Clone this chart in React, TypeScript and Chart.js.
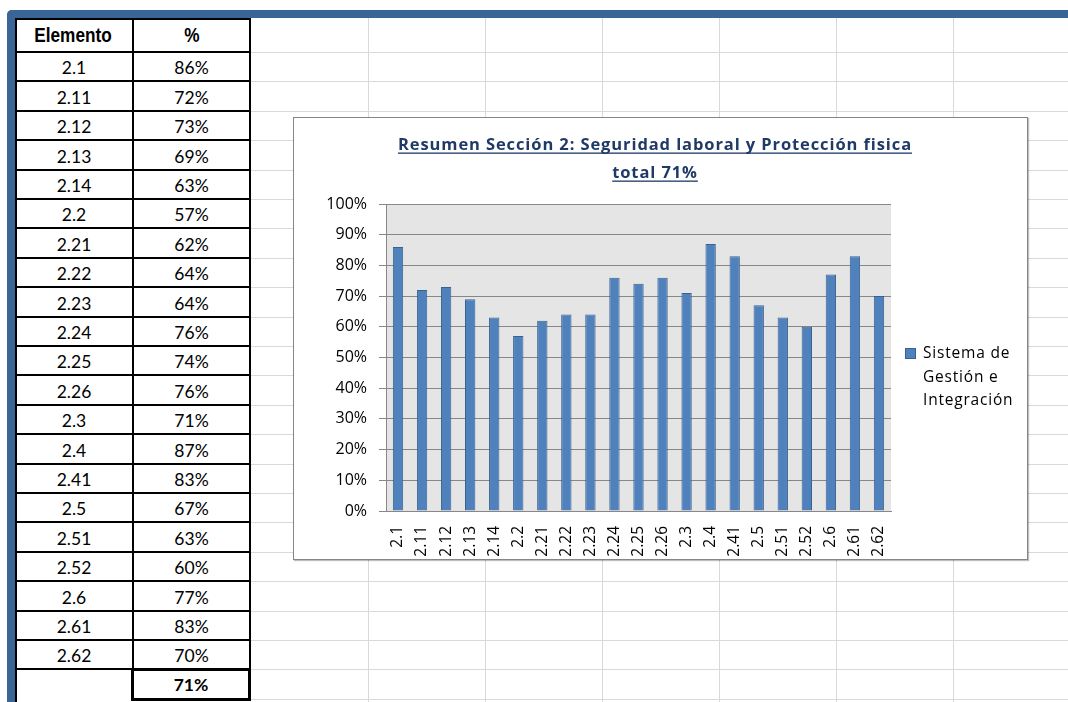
import React, { useEffect, useRef } from "react";
import { Chart, registerables } from "chart.js";

Chart.register(...registerables);

// ---- data ----
const categories = ["2.1", "2.11", "2.12", "2.13", "2.14", "2.2", "2.21", "2.22", "2.23", "2.24", "2.25", "2.26", "2.3", "2.4", "2.41", "2.5", "2.51", "2.52", "2.6", "2.61", "2.62"];
const values = [86, 72, 73, 69, 63, 57, 62, 64, 64, 76, 74, 76, 71, 87, 83, 67, 63, 60, 77, 83, 70];
const totalValue = 71;
const seriesName = "Sistema de Gestión e Integración";
const legendLines = ["Sistema de", "Gestión e", "Integración"];
const titleLines = ["Resumen Sección 2: Seguridad laboral y Protección fisica", "total 71%"];
const tableHeaders = ["Elemento", "%"];
const yMin = 0;
const yMax = 100;
const yStep = 10;

// ---- styles ----
const BAR_FILL = "#4F81BD";
const BAR_BORDER = "#3A6290";
const GRID = "#878787";
const PLOT_BG = "#E5E5E5";
const TITLE_COLOR = "#1F3A66";
const FRAME_BLUE = "#3A6597";
const SHEET_LINE = "#D9D9D9";
const CHART_FONT = "'Open Sans', 'Lato', sans-serif";

const rowY = (i: number) => Math.round(52 + 29.4 * i);

const plotBg = {
  id: "plotBg",
  beforeDraw(chart: any) {
    const { ctx, chartArea } = chart;
    ctx.save();
    ctx.fillStyle = PLOT_BG;
    ctx.fillRect(chartArea.left, chartArea.top, chartArea.right - chartArea.left, chartArea.bottom - chartArea.top);
    ctx.restore();
  },
};

const titlePlugin = {
  id: "xlTitle",
  afterDraw(chart: any) {
    const ctx = chart.ctx;
    ctx.save();
    ctx.font = "bold 16.5px 'Open Sans', Lato, sans-serif";
    try {
      (ctx as any).letterSpacing = "0.9px";
    } catch (e) {}
    ctx.fillStyle = TITLE_COLOR;
    ctx.textAlign = "center";
    ctx.textBaseline = "alphabetic";
    const cx = 361;
    titleLines.forEach((line, i) => {
      const y = 32 + i * 28;
      ctx.fillText(line, cx, y);
      const w = ctx.measureText(line).width;
      ctx.fillRect(cx - w / 2, y + 2.5, w, 1.3);
    });
    ctx.restore();
  },
};

const legendPlugin = {
  id: "xlLegend",
  afterDraw(chart: any) {
    const ctx = chart.ctx;
    const ds = chart.data.datasets[0];
    ctx.save();
    ctx.fillStyle = ds.backgroundColor;
    ctx.fillRect(611, 230, 11, 11);
    ctx.strokeStyle = ds.borderColor;
    ctx.lineWidth = 1;
    ctx.strokeRect(611.5, 230.5, 10, 10);
    ctx.fillStyle = "#000";
    ctx.font = `15.5px ${CHART_FONT}`;
    try {
      (ctx as any).letterSpacing = "0.8px";
    } catch (e) {}
    ctx.textAlign = "left";
    ctx.textBaseline = "middle";
    legendLines.forEach((line, i) => {
      ctx.fillText(line, 629, 236 + i * 23.5);
    });
    ctx.restore();
  },
};

function XlChart() {
  const ref = useRef<HTMLCanvasElement | null>(null);
  useEffect(() => {
    if (!ref.current) return;
    const chart = new Chart(ref.current, {
      type: "bar",
      data: {
        labels: categories,
        datasets: [
          {
            label: seriesName,
            data: values,
            backgroundColor: BAR_FILL,
            borderColor: BAR_BORDER,
            borderWidth: 1,
            barPercentage: 0.43,
            categoryPercentage: 1,
          },
        ],
      },
      options: {
        animation: false,
        responsive: false,
        maintainAspectRatio: false,
        layout: { padding: { top: 86, right: 136, left: 0, bottom: 0 } },
        plugins: {
          legend: { display: false },
          title: { display: false },
          tooltip: { enabled: false },
        },
        scales: {
          x: {
            grid: { display: true, drawOnChartArea: false, drawTicks: true, tickLength: 8, color: "rgba(0,0,0,0)" },
            border: { display: true, color: GRID, width: 1 },
            ticks: {
              autoSkip: false,
              minRotation: 90,
              maxRotation: 90,
              padding: 7,
              color: "#000",
              font: { family: CHART_FONT, size: 15.5 },
            },
            afterFit: (s: any) => {
              s.height = 48;
            },
          },
          y: {
            min: yMin,
            max: yMax,
            ticks: {
              stepSize: yStep,
              padding: 12,
              color: "#000",
              font: { family: CHART_FONT, size: 16 },
              callback: (v: any) => `${v}%`,
            },
            grid: { color: GRID, lineWidth: 1, tickLength: 7 },
            border: { display: true, color: GRID, width: 1 },
            afterFit: (s: any) => {
              s.width = 92;
            },
          },
        },
      },
      plugins: [plotBg, titlePlugin, legendPlugin],
    });
    return () => chart.destroy();
  }, []);
  return <canvas ref={ref} width={733} height={441} style={{ display: "block", width: 733, height: 441 }} />;
}

export default function App() {
  const sheetCols = [368, 485, 602, 719, 836, 953];
  const rowLines: number[] = [];
  for (let i = 0; i <= 22; i++) rowLines.push(rowY(i));
  const cellFont: React.CSSProperties = { fontFamily: "Lato, 'Open Sans', sans-serif", fontSize: 17.5, color: "#000" };
  const headFont: React.CSSProperties = {
    fontFamily: "'Liberation Sans Narrow', 'Arial Narrow', 'Liberation Sans', sans-serif",
    fontWeight: "bold",
    fontSize: 20,
    color: "#000",
  };
  const nRows = categories.length;
  return (
    <div style={{ position: "absolute", left: 0, top: 0, width: 1068, height: 702, overflow: "hidden", background: "#fff" }}>
      {/* sheet grid */}
      {sheetCols.map((x) => (
        <div key={"c" + x} style={{ position: "absolute", left: x, top: 18, width: 1, height: 690, background: SHEET_LINE }} />
      ))}
      {rowLines.map((y) => (
        <div key={"r" + y} style={{ position: "absolute", left: 250, top: y, width: 830, height: 1, background: SHEET_LINE }} />
      ))}
      {/* blue frame */}
      <div
        style={{
          position: "absolute",
          left: 7,
          top: 10,
          width: 1100,
          height: 720,
          borderTop: `8px solid ${FRAME_BLUE}`,
          borderLeft: `8px solid ${FRAME_BLUE}`,
          borderTopLeftRadius: 5,
          boxSizing: "border-box",
        }}
      />
      {/* table */}
      <div style={{ position: "absolute", left: 15, top: 19, width: 117, height: 33, display: "flex", alignItems: "center", justifyContent: "center", ...headFont }}>
        <span style={{ display: "inline-block", transform: "scaleX(0.86)" }}>{tableHeaders[0]}</span>
      </div>
      <div style={{ position: "absolute", left: 133, top: 19, width: 117, height: 33, display: "flex", alignItems: "center", justifyContent: "center", ...headFont }}>
        <span style={{ display: "inline-block", transform: "scaleX(0.86)" }}>{tableHeaders[1]}</span>
      </div>
      {categories.map((c, i) => (
        <React.Fragment key={c}>
          <div style={{ position: "absolute", left: 15, top: rowY(i) + 1, width: 118, height: rowY(i + 1) - rowY(i), display: "flex", alignItems: "center", justifyContent: "center", ...cellFont }}>
            {c}
          </div>
          <div style={{ position: "absolute", left: 133, top: rowY(i) + 1, width: 117, height: rowY(i + 1) - rowY(i), display: "flex", alignItems: "center", justifyContent: "center", ...cellFont }}>
            {values[i]}%
          </div>
        </React.Fragment>
      ))}
      {/* table lines */}
      {[19, ...rowLines.slice(0, nRows + 1)].map((y, i) => (
        <div key={"t" + i} style={{ position: "absolute", left: 15, top: y - 1, width: 236, height: 2, background: "#000" }} />
      ))}
      <div style={{ position: "absolute", left: 15, top: 18, width: 2, height: 690, background: "#000" }} />
      <div style={{ position: "absolute", left: 132, top: 18, width: 2, height: rowY(nRows) - 18, background: "#000" }} />
      <div style={{ position: "absolute", left: 249, top: 18, width: 2, height: rowY(nRows) - 18, background: "#000" }} />
      {/* total cell */}
      <div
        style={{
          position: "absolute",
          left: 131,
          top: rowY(nRows) - 1,
          width: 120,
          height: 33,
          border: "3px solid #000",
          boxSizing: "border-box",
          display: "flex",
          alignItems: "center",
          justifyContent: "center",
          ...cellFont,
          fontWeight: "bold",
        }}
      >
        {totalValue}%
      </div>
      {/* chart box */}
      <div
        style={{
          position: "absolute",
          left: 293,
          top: 117,
          width: 735,
          height: 443,
          border: "1px solid #868686",
          boxSizing: "border-box",
          background: "#fff",
          boxShadow: "1px 1px 1px rgba(0,0,0,0.25)",
        }}
      >
        <XlChart />
      </div>
    </div>
  );
}
